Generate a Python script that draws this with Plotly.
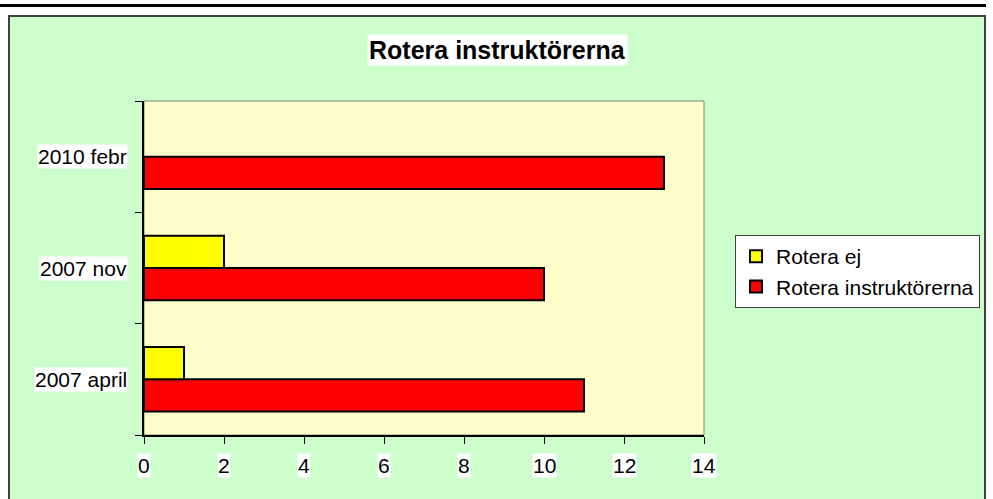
import plotly.graph_objects as go

categories = ["2007 april", "2007 nov", "2010 febr"]
rotera_ej = [1, 2, 0]
rotera_instr = [11, 10, 13]
x_ticks = [0, 2, 4, 6, 8, 10, 12, 14]
title_text = "Rotera instruktörerna"

FONT = "Liberation Sans, Arial, sans-serif"
W, H = 993, 499
L, R, T, B = 144, 289, 101, 64
PW, PH = W - L - R, H - T - B


def px(xp):
    return (xp - L) / PW


def py(yp):
    return (H - B - yp) / PH


fig = go.Figure()
fig.add_trace(go.Bar(
    y=categories, x=rotera_instr, orientation="h", name="Rotera instruktörerna",
    marker=dict(color="#FF0000",
                line=dict(color="#000000", width=[2 if v else 0 for v in rotera_instr])),
    legendgroup="b",
))
fig.add_trace(go.Bar(
    y=categories, x=rotera_ej, orientation="h", name="Rotera ej",
    marker=dict(color="#FFFF00",
                line=dict(color="#000000", width=[2 if v else 0 for v in rotera_ej])),
    legendgroup="a",
))

shapes = [
    dict(type="rect", xref="paper", yref="paper", x0=px(9), x1=px(985), y0=py(520), y1=py(16),
         fillcolor="#CCFFCC", line=dict(color="#404040", width=2), layer="below"),
    dict(type="rect", xref="paper", yref="paper", x0=0, x1=1, y0=0, y1=1,
         fillcolor="#FFFFCC", line=dict(color="#808080", width=1), layer="below"),
    dict(type="line", xref="paper", yref="paper", x0=px(0), x1=px(986), y0=py(5.5), y1=py(5.5),
         line=dict(color="#000000", width=3), layer="above"),
]

annotations = [
    dict(text="<b>" + title_text + "</b>", xref="paper", yref="paper", x=px(497), y=py(49.5),
         xanchor="center", yanchor="middle", showarrow=False, bgcolor="#FFFFFF", borderpad=1,
         font=dict(family=FONT, size=25, color="#000000")),
]
for t in x_ticks:
    annotations.append(dict(text=str(t), xref="x", yref="paper", x=t, y=py(465),
                            xanchor="center", yanchor="middle", showarrow=False,
                            bgcolor="#FFFFFF", borderpad=0,
                            font=dict(family=FONT, size=21, color="#000000")))
for c in categories:
    annotations.append(dict(text=c, xref="paper", yref="y", x=px(128), y=c,
                            xanchor="right", yanchor="middle", showarrow=False,
                            bgcolor="#FFFFFF", borderpad=0,
                            font=dict(family=FONT, size=21, color="#000000")))

fig.update_layout(
    width=W, height=H,
    margin=dict(l=L, r=R, t=T, b=B, pad=0),
    paper_bgcolor="#FFFFFF",
    plot_bgcolor="rgba(0,0,0,0)",
    barmode="group",
    bargap=0.42,
    bargroupgap=0,
    font=dict(family=FONT, size=21, color="#000000"),
    showlegend=True,
    legend=dict(
        x=px(735), y=py(235), xanchor="left", yanchor="top",
        bgcolor="#FFFFFF", bordercolor="#404040", borderwidth=1,
        font=dict(family=FONT, size=21, color="#000000"),
        traceorder="reversed", tracegroupgap=6,
        itemwidth=30,
    ),
    shapes=shapes,
    annotations=annotations,
    xaxis=dict(
        range=[0, 14], tickvals=x_ticks, showticklabels=False,
        ticks="outside", ticklen=7, tickcolor="#000000", tickwidth=1,
        showline=True, linecolor="#000000", linewidth=1.5,
        showgrid=False, zeroline=False, fixedrange=True,
    ),
    yaxis=dict(
        categoryorder="array", categoryarray=categories, showticklabels=False,
        tickson="boundaries", ticks="outside", ticklen=7, tickcolor="#000000", tickwidth=1,
        showline=True, linecolor="#000000", linewidth=1.5,
        showgrid=False, zeroline=False, fixedrange=True,
    ),
)

fig.write_html("out.html", config={"displayModeBar": False},
               post_script="document.body.style.margin='0px';document.body.style.overflow='hidden';")
